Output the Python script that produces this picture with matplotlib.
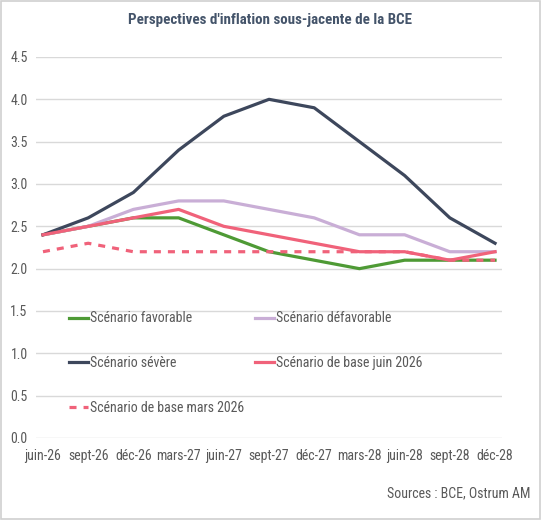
import matplotlib.pyplot as plt
from matplotlib.patches import Rectangle

# Data
dates = ["juin-26", "sept-26", "déc-26", "mars-27", "juin-27", "sept-27",
         "déc-27", "mars-28", "juin-28", "sept-28", "déc-28"]
favorable = [2.4, 2.5, 2.6, 2.6, 2.4, 2.2, 2.1, 2.0, 2.1, 2.1, 2.1]
defavorable = [2.4, 2.5, 2.7, 2.8, 2.8, 2.7, 2.6, 2.4, 2.4, 2.2, 2.2]
severe = [2.4, 2.6, 2.9, 3.4, 3.8, 4.0, 3.9, 3.5, 3.1, 2.6, 2.3]
base_juin = [2.4, 2.5, 2.6, 2.7, 2.5, 2.4, 2.3, 2.2, 2.2, 2.1, 2.2]
base_mars = [2.2, 2.3, 2.2, 2.2, 2.2, 2.2, 2.2, 2.2, 2.2, 2.1, 2.1]

plt.rcParams["font.family"] = ["Roboto Condensed", "DejaVu Sans"]
text_col = "#595959"

fig = plt.figure(figsize=(5.41, 5.20), dpi=100)
fig.patches.append(Rectangle((0.002, 0.002), 0.996, 0.996, transform=fig.transFigure,
                             fill=False, edgecolor="#D0D0D0", linewidth=1.2))
ax = fig.add_axes([0.0665, 0.1577, 0.8615, 0.7327])

x = range(len(dates))
lw = 2.3
l_fav, = ax.plot(x, favorable, color="#4E9A35", lw=lw, label="Scénario favorable")
l_def, = ax.plot(x, defavorable, color="#C9AED6", lw=lw, label="Scénario défavorable")
l_sev, = ax.plot(x, severe, color="#3D475C", lw=lw, label="Scénario sévère")
l_juin, = ax.plot(x, base_juin, color="#F0627A", lw=lw, label="Scénario de base juin 2026")
l_mars, = ax.plot(x, base_mars, color="#F0627A", lw=lw, ls=(0, (2.2, 2.2)),
                  label="Scénario de base mars 2026")

ax.set_ylim(0, 4.5)
ax.set_xlim(-0.155, 10.155)
ax.set_yticks([i * 0.5 for i in range(10)])
ax.set_yticklabels([f"{i * 0.5:.1f}" for i in range(10)])
ax.set_xticks(list(x))
ax.set_xticklabels(dates)
ax.tick_params(axis="both", length=0, labelsize=10, colors=text_col)
ax.tick_params(axis="y", pad=6)
ax.tick_params(axis="x", pad=8)
ax.grid(axis="y", color="#D9D9D9", lw=1)
ax.set_axisbelow(True)
for s in ax.spines.values():
    s.set_visible(False)

# row-wise legend order like the original (matplotlib fills columns first)
handles = [l_fav, l_sev, l_mars, l_def, l_juin]
ax.legend(handles=handles, labels=[h.get_label() for h in handles],
          loc="upper left", bbox_to_anchor=(0.045, 0.365), ncol=2, frameon=False,
          fontsize=10, handlelength=1.35, handletextpad=0.15,
          labelspacing=2.2, columnspacing=0.75, labelcolor=text_col)

fig.text(0.5, 0.962, "Perspectives d'inflation sous-jacente de la BCE",
         ha="center", va="center", fontsize=10.8, fontweight="bold", color="#44546A")
fig.text(0.98, 0.052, "Sources : BCE, Ostrum AM", ha="right", va="center",
         fontsize=10, color=text_col)

fig.savefig("out.png", dpi=100)
